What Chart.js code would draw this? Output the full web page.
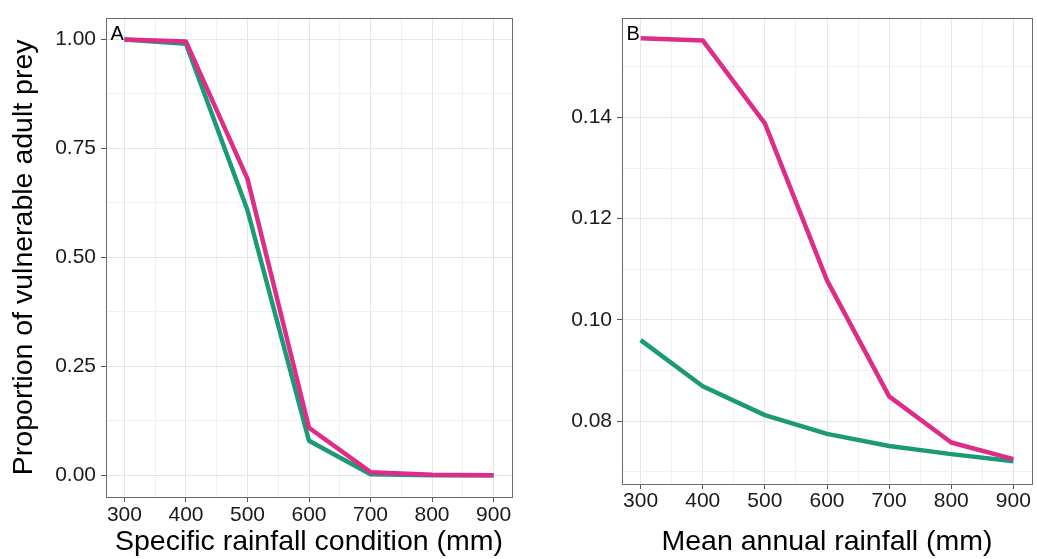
<!DOCTYPE html>
<html>
<head>
<meta charset="utf-8">
<script src="https://cdn.jsdelivr.net/npm/chart.js@4/dist/chart.umd.min.js"></script>
<style>
    html, body { margin: 0; padding: 0; background: #fff; }
    #wrap { position: relative; width: 1037px; height: 559px; }
    canvas { position: absolute; top: 0; }
    #chartA { left: 0; }
    #chartB { left: 520px; }
</style>
</head>
<body>
<div id="wrap">
    <canvas id="chartA" width="520" height="559"></canvas>
    <canvas id="chartB" width="517" height="559"></canvas>
</div>
<script>
const rainfall = [300, 400, 500, 600, 700, 800, 900];

// panel A - specific rainfall condition
const specificPink  = [1.000, 0.995, 0.680, 0.109, 0.007, 0.001, 0.000];
const specificGreen = [1.000, 0.990, 0.608, 0.079, 0.002, 0.000, 0.000];

// panel B - mean annual rainfall
const meanPink  = [0.1556, 0.1552, 0.1388, 0.1078, 0.0849, 0.0758, 0.0725];
const meanGreen = [0.0960, 0.0869, 0.0812, 0.0775, 0.0751, 0.0735, 0.0721];

const xMajorTicks = [300, 400, 500, 600, 700, 800, 900];
const xMinorTicks = [350, 450, 550, 650, 750, 850];
const yMajorTicksA = [0, 0.25, 0.5, 0.75, 1];
const yMinorTicksA = [0.125, 0.375, 0.625, 0.875];
const yMajorTicksB = [0.08, 0.10, 0.12, 0.14];
const yMinorTicksB = [0.07, 0.09, 0.11, 0.13, 0.15];

const PINK = "#DD2D88";
const GREEN = "#1B9A76";
const FONT = "'Liberation Sans', Arial, sans-serif";

function isIn(list, v) {
    return list.some(t => Math.abs(t - v) < 1e-9);
}

function toPoints(xs, ys) {
    return xs.map((x, i) => ({ x: x, y: ys[i] }));
}

function makeAxis(opts) {
    const allTicks = opts.major.concat(opts.minor).sort((a, b) => a - b);
    return {
        type: "linear",
        position: opts.position,
        min: opts.min,
        max: opts.max,
        afterBuildTicks: scale => {
            scale.ticks = allTicks.map(v => ({ value: v }));
        },
        afterFit: scale => {
            if (opts.position === "left") scale.width = opts.size;
            else scale.height = opts.size;
        },
        border: { display: false },
        grid: {
            color: ctx => isIn(opts.major, ctx.tick.value) ? "#e6e6e6" : "#f0f0f0",
            lineWidth: 1,
            tickLength: 5,
            tickColor: ctx => isIn(opts.major, ctx.tick.value) ? "#555" : "rgba(0,0,0,0)",
            drawTicks: true
        },
        ticks: {
            autoSkip: false,
            maxRotation: 0,
            padding: opts.tickPad,
            color: "#1a1a1a",
            font: { family: FONT, size: 21 },
            callback: v => isIn(opts.major, v) ? opts.format(v) : ""
        },
        title: {
            display: !!opts.title,
            text: opts.title || "",
            color: "#000",
            font: { family: FONT, size: 28.5, lineHeight: 1 },
            padding: opts.titlePad
        }
    };
}

const panelPlugin = {
    id: "panelFrame",
    afterDraw(chart, args, o) {
        const { ctx, chartArea: a } = chart;
        ctx.save();
        ctx.strokeStyle = "#6b6b6b";
        ctx.lineWidth = 1;
        ctx.strokeRect(Math.round(a.left) + 0.5, Math.round(a.top) + 0.5,
            Math.round(a.right - a.left), Math.round(a.bottom - a.top));
        ctx.fillStyle = "#000";
        ctx.font = "20px " + FONT;
        ctx.textBaseline = "alphabetic";
        ctx.fillText(o.label, a.left + 4.5, a.top + 22);
        ctx.restore();
    }
};

function drawPanel(id, cfg) {
    const ctx = document.getElementById(id).getContext("2d");
    return new Chart(ctx, {
        type: "line",
        data: {
            datasets: [
                {
                    data: toPoints(rainfall, cfg.pink),
                    borderColor: PINK,
                    borderWidth: 4.5,
                    pointRadius: 0,
                    borderJoinStyle: "round",
                    tension: 0,
                    order: 0
                },
                {
                    data: toPoints(rainfall, cfg.green),
                    borderColor: GREEN,
                    borderWidth: 4.5,
                    pointRadius: 0,
                    borderJoinStyle: "round",
                    tension: 0,
                    order: 1
                }
            ]
        },
        options: {
            responsive: false,
            animation: false,
            layout: { padding: cfg.padding },
            plugins: {
                legend: { display: false },
                tooltip: { enabled: false },
                panelFrame: { label: cfg.label }
            },
            scales: {
                x: makeAxis({
                    position: "bottom", min: 270, max: 930,
                    major: xMajorTicks, minor: xMinorTicks,
                    size: cfg.xSize, tickPad: cfg.xTickPad,
                    format: v => String(v),
                    title: cfg.xTitle, titlePad: { top: 0, bottom: 3 }
                }),
                y: makeAxis({
                    position: "left", min: cfg.yMin, max: cfg.yMax,
                    major: cfg.yMajor, minor: cfg.yMinor,
                    size: cfg.ySize, tickPad: 5,
                    format: v => v.toFixed(2),
                    title: cfg.yTitle, titlePad: { top: 10, bottom: 0 }
                })
            }
        },
        plugins: [panelPlugin]
    });
}

drawPanel("chartA", {
    label: "A",
    pink: specificPink,
    green: specificGreen,
    yMin: -0.05, yMax: 1.05,
    yMajor: yMajorTicksA, yMinor: yMinorTicksA,
    ySize: 106, xSize: 62, xTickPad: 1,
    padding: { top: 9, right: 8, bottom: 0, left: 0 },
    xTitle: "Specific rainfall condition (mm)",
    yTitle: "Proportion of vulnerable adult prey"
});

drawPanel("chartB", {
    label: "B",
    pink: meanPink,
    green: meanGreen,
    yMin: 0.0676, yMax: 0.1597,
    yMajor: yMajorTicksB, yMinor: yMinorTicksB,
    ySize: 102, xSize: 75, xTickPad: 0,
    padding: { top: 9, right: 5, bottom: 0, left: 0 },
    xTitle: "Mean annual rainfall (mm)",
    yTitle: null
});
</script>
</body>
</html>
